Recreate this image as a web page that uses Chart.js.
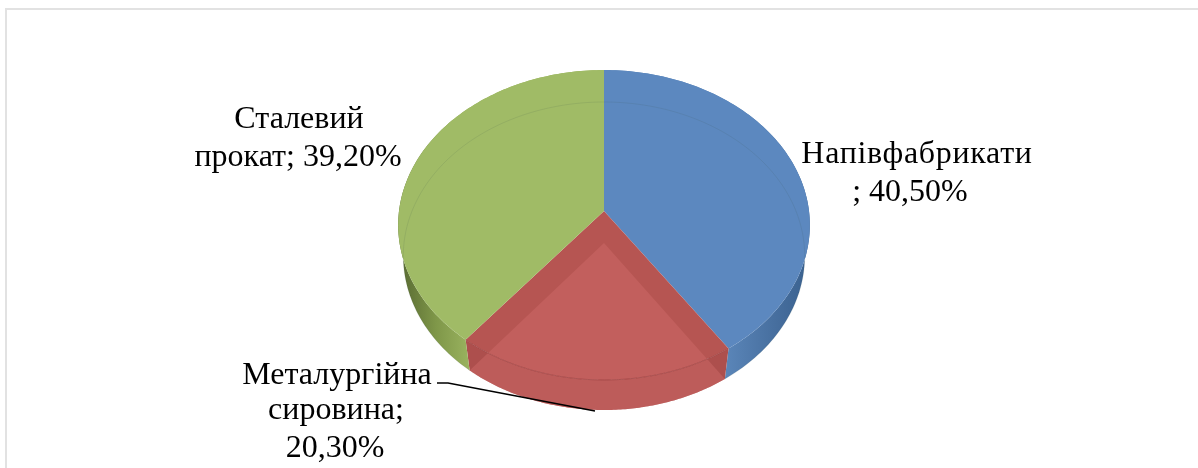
<!DOCTYPE html>
<html>
<head>
<meta charset="utf-8">
<style>
    html, body { margin: 0; padding: 0; background: #fff; overflow: hidden; }
    #frame { position: absolute; left: 5px; top: 8px; width: 1193px; height: 460px; border-top: 2px solid #e2e2e2; border-left: 2px solid #e2e2e2; box-sizing: border-box; }
    canvas { position: absolute; left: 0; top: 0; }
</style>
</head>
<body>
<div id="frame"></div>
<canvas id="pieChart" width="1198" height="468"></canvas>
<script src="https://cdn.jsdelivr.net/npm/chart.js@4"></script>
<script>
// Chart data
const categories = ['Напівфабрикати', 'Металургійна сировина', 'Сталевий прокат'];
const shares = [40.5, 20.3, 39.2];
const labelLines = [
    ['Напівфабрикати', '; 40,50%'],
    ['Металургійна', 'сировина;', '20,30%'],
    ['Сталевий', 'прокат; 39,20%']
];

// Where each label line goes: [center x, baseline y, letter spacing]
const labelSpots = [
    [[917, 163, 0.7], [910, 201, 0]],
    [[337, 384, 0], [336, 419, 0], [335, 457, 0]],
    [[299, 128, 0], [298, 166, 0]]
];

// Perspective of the pie disc, fitted on the picture
const topFace = { a: 205, b: 153.7, k: -0.0903, dy: 0 };
const bottomFace = { a: 200, b: 152.9, k: -0.0844, dy: 32 };

const faceColors = ['#5c88bf', '#b65552', '#a0bb66'];

// Angle on the disc to a canvas point
function project(arc, face, angle) {
    const w = 1 + face.k * Math.sin(angle);
    return {
        x: arc.x + face.a * Math.cos(angle) / w,
        y: arc.y + face.dy + face.b * Math.sin(angle) / w
    };
}

function arcPoints(arc, face) {
    const points = [];
    const steps = 120;
    for (let i = 0; i <= steps; i++) {
        const angle = arc.startAngle + (arc.endAngle - arc.startAngle) * i / steps;
        points.push(project(arc, face, angle));
    }
    return points;
}

function wedgePath(ctx, arc, face) {
    ctx.beginPath();
    ctx.moveTo(arc.x, arc.y + face.dy);
    arcPoints(arc, face).forEach(p => ctx.lineTo(p.x, p.y));
    ctx.closePath();
}

// Side wall between the top and the bottom rim of a slice
function wallPath(ctx, arc) {
    const upper = arcPoints(arc, topFace);
    const lower = arcPoints(arc, bottomFace).reverse();
    ctx.beginPath();
    upper.concat(lower).forEach((p, i) => i ? ctx.lineTo(p.x, p.y) : ctx.moveTo(p.x, p.y));
    ctx.closePath();
}

function wallFill(ctx, index) {
    if (index === 0) {
        const g = ctx.createLinearGradient(727, 0, 806, 0);
        g.addColorStop(0, '#5a85b8');
        g.addColorStop(0.6, '#476f9f');
        g.addColorStop(1, '#3b6290');
        return g;
    }
    if (index === 2) {
        const g = ctx.createLinearGradient(402, 0, 470, 0);
        g.addColorStop(0, '#5a6c33');
        g.addColorStop(0.5, '#7f9749');
        g.addColorStop(1, '#9ab35f');
        return g;
    }
    return '#ad4f4d';
}

const disc3d = {
    id: 'disc3d',
    beforeDatasetDraw(chart, args) {
        const ctx = chart.ctx;
        const arcs = args.meta.data;
        ctx.save();

        arcs.forEach((arc, i) => {
            wallPath(ctx, arc);
            ctx.fillStyle = wallFill(ctx, i);
            ctx.fill();
        });

        arcs.forEach((arc, i) => {
            wedgePath(ctx, arc, topFace);
            ctx.fillStyle = faceColors[i];
            ctx.fill();
        });

        // The back rim of the bottom face shows through the top
        [arcs[0], arcs[2]].forEach(arc => {
            ctx.beginPath();
            arcPoints(arc, bottomFace).forEach((p, i) => i ? ctx.lineTo(p.x, p.y) : ctx.moveTo(p.x, p.y));
            ctx.strokeStyle = 'rgba(60, 80, 70, 0.12)';
            ctx.lineWidth = 1;
            ctx.stroke();
        });

        // Red slice is see-through: bottom wedge and front rim
        const red = arcs[1];
        wedgePath(ctx, red, bottomFace);
        ctx.fillStyle = 'rgba(205, 105, 103, 0.5)';
        ctx.fill();

        ctx.beginPath();
        arcPoints(red, topFace).forEach((p, i) => i ? ctx.lineTo(p.x, p.y) : ctx.moveTo(p.x, p.y));
        ctx.strokeStyle = 'rgba(150, 60, 60, 0.6)';
        ctx.lineWidth = 1;
        ctx.stroke();

        ctx.restore();
        return false;
    },
    afterDraw(chart) {
        const ctx = chart.ctx;
        ctx.save();

        // Leader line of the bottom label
        ctx.beginPath();
        ctx.moveTo(437, 383);
        ctx.lineTo(448, 383);
        ctx.lineTo(595, 411);
        ctx.strokeStyle = '#000';
        ctx.lineWidth = 1.5;
        ctx.stroke();

        ctx.fillStyle = '#000';
        ctx.font = '32px "Liberation Serif"';
        ctx.textAlign = 'center';
        ctx.textBaseline = 'alphabetic';
        labelLines.forEach((lines, i) => {
            lines.forEach((line, j) => {
                const spot = labelSpots[i][j];
                ctx.letterSpacing = spot[2] + 'px';
                ctx.fillText(line, spot[0], spot[1]);
            });
        });
        ctx.restore();
    }
};

new Chart(document.getElementById('pieChart'), {
    type: 'pie',
    data: {
        labels: categories,
        datasets: [{ data: shares, backgroundColor: faceColors, borderWidth: 0 }]
    },
    options: {
        responsive: false,
        animation: false,
        layout: { padding: { left: 10, top: 0, right: 0, bottom: 46 } },
        plugins: { legend: { display: false }, tooltip: { enabled: false } }
    },
    plugins: [disc3d]
});
</script>
</body>
</html>
